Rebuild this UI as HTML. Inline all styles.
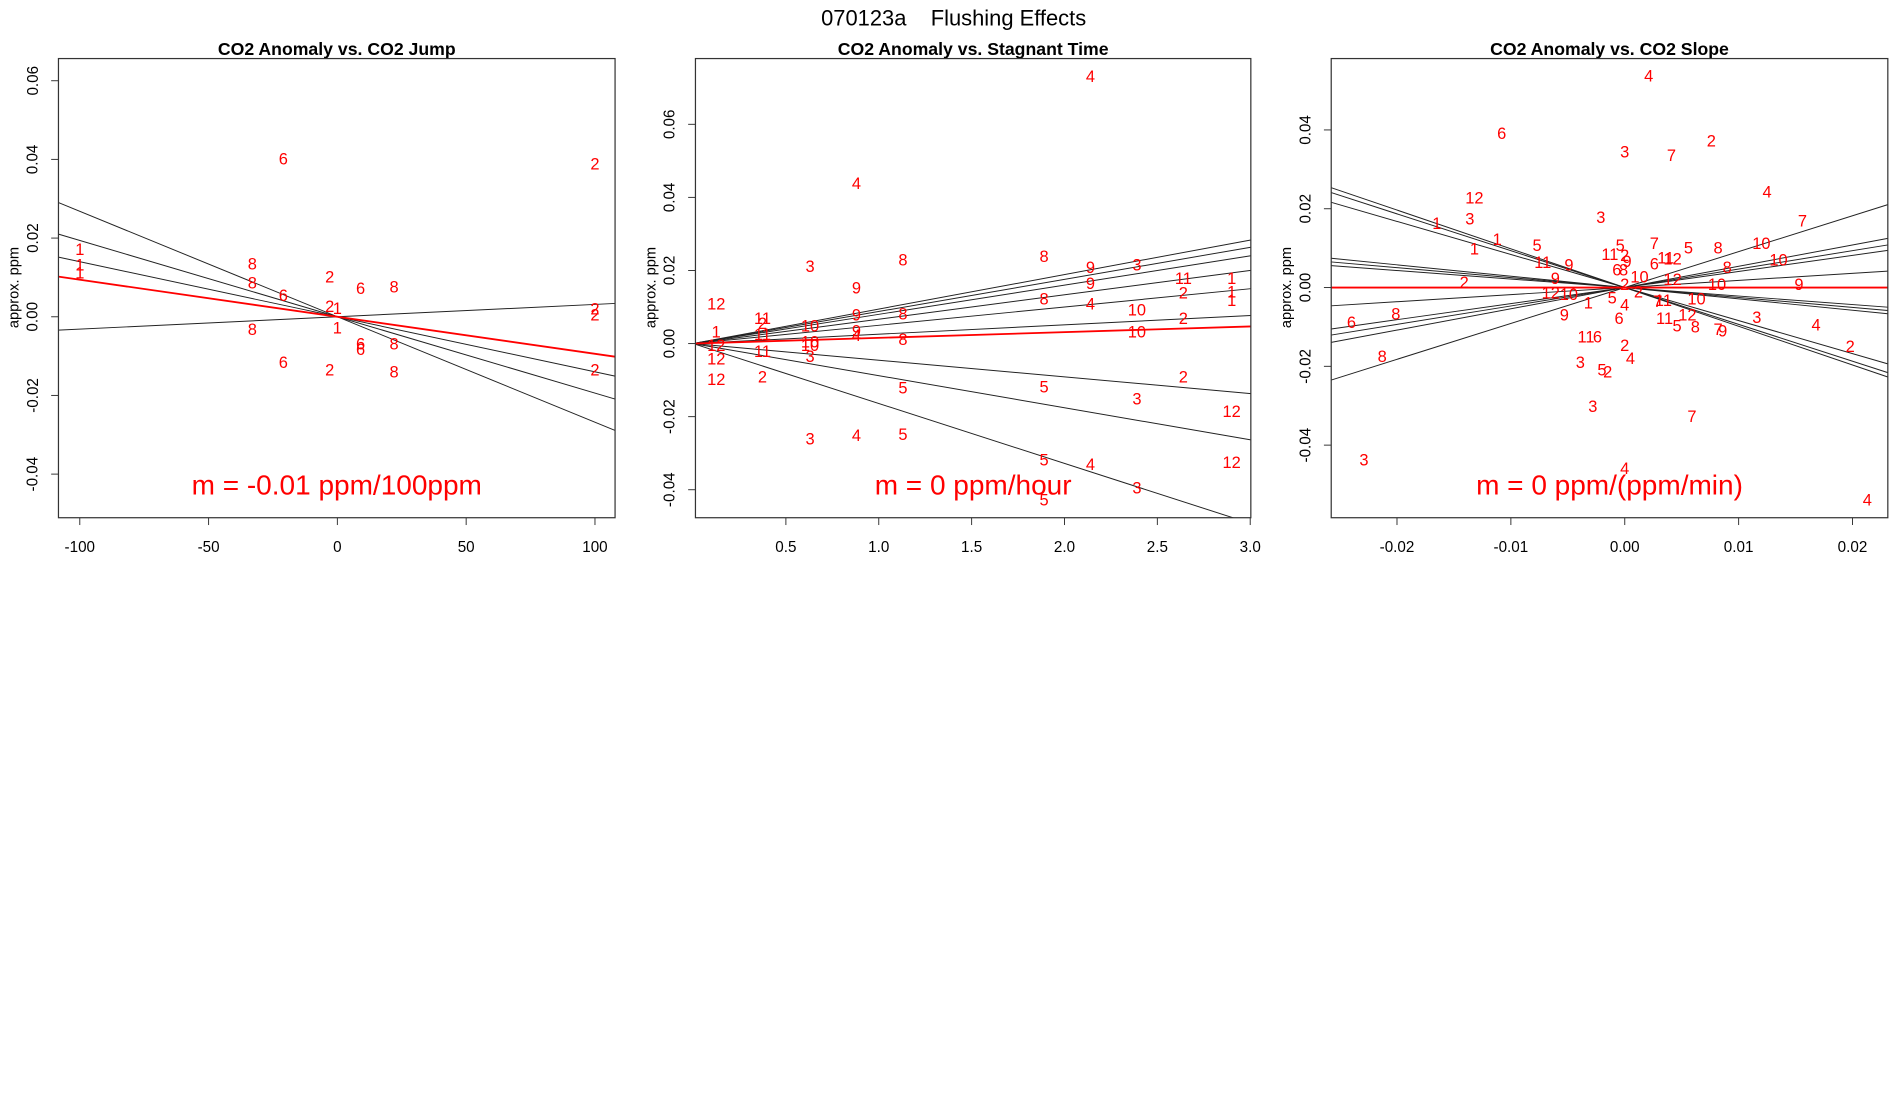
<!DOCTYPE html>
<html><head><meta charset="utf-8"><style>
body{margin:0;background:#fff;}
svg{display:block;font-family:"Liberation Sans",Arial,sans-serif;}
</style></head><body>
<svg id="chart" width="1900" height="1100" viewBox="0 0 1560 903" xmlns="http://www.w3.org/2000/svg">
<text x="783" y="21" font-size="18" text-anchor="middle" style="white-space:pre" xml:space="preserve">070123a    Flushing Effects</text>
</svg>
<script>
// ---- Panel 1: CO2 Jump ----
const p1Labels = ["1","1","1","6","2","8","8","6","2","2","1","1","6","8","8","6","6","8","6","2","8","2","2","2"];
const p1X = [-100,-100,-100,-21,100,-33,-33,-21,-3,-3,0,0,9,22,-33,9,9,22,-21,-3,22,100,100,100];
const p1Y = [0.017,0.013,0.011,0.040,0.0387,0.0133,0.0084,0.0053,0.010,0.0025,0.002,-0.003,0.007,0.0074,-0.0034,-0.007,-0.0084,-0.0071,-0.0118,-0.0136,-0.0142,0.0019,0.0003,-0.0136];
const p1Slopes = [-0.000268,-0.000194,-0.00014,0.0000314];
const p1Red = -0.0000942;
const p1XTicks = [-100,-50,0,50,100];
const p1XTickLabels = ["-100","-50","0","50","100"];
const p1YTicks = [0.06,0.04,0.02,0,-0.02,-0.04];
const p1YTickLabels = ["0.06","0.04","0.02","0.00","-0.02","-0.04"];

// ---- Panel 2: Stagnant Time ----
const p2Labels = ["4","4","12","3","9","8","8","9","3","9","11","1","2","1","1","8","4","10","8","2","10","1","11","2","10","9","11","9","4","10","10","12","11","3","8","12","2","12","5","5","2","3","12","3","4","5","5","4","12","3","5"];
const p2X = [2.14,0.88,0.125,0.63,0.88,1.13,1.89,2.14,2.39,2.14,2.64,2.90,2.64,2.90,2.90,1.89,2.14,2.39,1.13,2.64,2.39,0.125,0.374,0.374,0.63,0.88,0.374,0.88,0.88,0.63,0.63,0.125,0.374,0.63,1.13,0.125,0.374,0.125,1.13,1.89,2.64,2.39,2.90,0.63,0.88,1.13,1.89,2.14,2.90,2.39,1.89];
const p2Y = [0.073,0.0437,0.0107,0.021,0.015,0.0227,0.0237,0.0207,0.0213,0.0163,0.0177,0.0177,0.0137,0.014,0.0117,0.012,0.0107,0.009,0.008,0.0067,0.003,0.003,0.0067,0.0053,0.0047,0.0077,0.0023,0.0033,0.002,0.0003,-0.0007,-0.0007,-0.0023,-0.0037,0.001,-0.0043,-0.0093,-0.01,-0.0123,-0.012,-0.0093,-0.0153,-0.0187,-0.0263,-0.0253,-0.025,-0.032,-0.0333,-0.0327,-0.0397,-0.043];
const p2Slopes = [0.00944,0.00878,0.008,0.00667,0.005,0.00256,-0.00456,-0.00878,-0.0164];
const p2Red = 0.00156;
const p2XTicks = [0.5,1.0,1.5,2.0,2.5,3.0];
const p2XTickLabels = ["0.5","1.0","1.5","2.0","2.5","3.0"];
const p2YTicks = [0.06,0.04,0.02,0,-0.02,-0.04];
const p2YTickLabels = ["0.06","0.04","0.02","0.00","-0.02","-0.04"];

// ---- Panel 3: CO2 Slope ----
const p3Labels = ["4","6","3","7","2","12","4","3","1","3","7","1","1","5","7","5","5","8","10","11","9","11","2","9","11","12","6","10","8","6","8","9","12","10","2","2","9","10","12","10","2","5","1","4","10","7","11","6","8","9","6","11","12","5","8","7","9","3","4","11","6","2","2","8","3","4","5","2","3","7","3","4","4"];
const p3X = [0.0021,-0.0108,0,0.0041,0.0076,-0.0132,0.0125,-0.0136,-0.0165,-0.0021,0.0156,-0.0112,-0.0132,-0.0077,0.0026,-0.0004,0.0056,0.0082,0.012,-0.0072,-0.0049,-0.0013,0,0.0002,0.0036,0.0042,0.0026,0.0135,0.009,-0.0007,-0.0001,-0.0061,0.0042,0.0013,-0.0141,0,0.0153,0.0081,-0.0065,-0.0049,0.0012,-0.0011,-0.0032,0,0.0063,0.0029,0.0034,-0.024,-0.0201,-0.0053,-0.0005,0.0035,0.0055,0.0046,0.0062,0.0082,0.0086,0.0116,0.0168,-0.0034,-0.0024,0,0.0198,-0.0213,-0.0039,0.0005,-0.002,-0.0015,-0.0028,0.0059,-0.0229,0,0.0213];
const p3Y = [0.0535,0.039,0.0343,0.0334,0.0371,0.0226,0.0241,0.0173,0.0161,0.0176,0.0167,0.0121,0.0096,0.0105,0.0111,0.0105,0.0099,0.0099,0.0111,0.0062,0.0056,0.0083,0.008,0.0065,0.0074,0.0071,0.0059,0.0068,0.0049,0.0043,0.0043,0.0022,0.0019,0.0025,0.0012,0.0006,0.0006,0.0006,-0.0015,-0.0019,-0.0012,-0.0028,-0.004,-0.0046,-0.0031,-0.0037,-0.0034,-0.009,-0.0068,-0.0071,-0.008,-0.008,-0.0071,-0.0099,-0.0102,-0.0108,-0.0111,-0.0077,-0.0096,-0.0127,-0.0127,-0.0148,-0.0151,-0.0176,-0.0192,-0.0182,-0.021,-0.0216,-0.0303,-0.0328,-0.0439,-0.0461,-0.0541];
const p3Slopes = [-0.983,-0.935,-0.839,-0.288,-0.252,-0.216,0.18,0.408,0.468,0.54,0.911];
const p3Red = 0;
const p3XTicks = [-0.02,-0.01,0,0.01,0.02];
const p3XTickLabels = ["-0.02","-0.01","0.00","0.01","0.02"];
const p3YTicks = [0.04,0.02,0,-0.02,-0.04];
const p3YTickLabels = ["0.04","0.02","0.00","-0.02","-0.04"];

const NS = "http://www.w3.org/2000/svg";
const svg = document.getElementById("chart");
function mk(tag, attrs, parent){const e=document.createElementNS(NS,tag);for(const k in attrs)e.setAttribute(k,attrs[k]);(parent||svg).appendChild(e);return e;}

const panels = [
 {id:"jump",title:"CO2 Anomaly vs. CO2 Jump",box:[48,48,505,425],x0:277,xs:2.115,y0:260,ys:3230,
  labels:p1Labels,xs_:p1X,ys_:p1Y,slopes:p1Slopes,red:p1Red,xt:p1XTicks,xtl:p1XTickLabels,yt:p1YTicks,ytl:p1YTickLabels,
  m:"m = -0.01 ppm/100ppm",ylab:12},
 {id:"stagnant",title:"CO2 Anomaly vs. Stagnant Time",box:[571,48,1027,425],x0:569,xs:152.5,y0:282,ys:3000,
  labels:p2Labels,xs_:p2X,ys_:p2Y,slopes:p2Slopes,red:p2Red,xt:p2XTicks,xtl:p2XTickLabels,yt:p2YTicks,ytl:p2YTickLabels,
  m:"m = 0 ppm/hour",ylab:535},
 {id:"slope",title:"CO2 Anomaly vs. CO2 Slope",box:[1093,48,1550,425],x0:1334,xs:9350,y0:236,ys:3235,
  labels:p3Labels,xs_:p3X,ys_:p3Y,slopes:p3Slopes,red:p3Red,xt:p3XTicks,xtl:p3XTickLabels,yt:p3YTicks,ytl:p3YTickLabels,
  m:"m = 0 ppm/(ppm/min)",ylab:1057}
];

panels.forEach((p,pi)=>{
 const [L,T,R,B]=p.box;
 const sx=v=>p.x0+p.xs*v, sy=v=>p.y0-p.ys*v;
 const inv=px=>(px-p.x0)/p.xs;
 const g=mk("g",{});
 
 
 const cp=mk("clipPath",{id:"clip"+pi},g);
 mk("rect",{x:L,y:T,width:R-L,height:B-T},cp);
 const t=mk("text",{x:(L+R)/2,y:45,"font-size":14.5,"font-weight":"bold","text-anchor":"middle"},g);
 t.textContent=p.title;
 
 
 const yl=mk("text",{x:p.ylab,y:236,"font-size":12,"text-anchor":"middle",transform:`rotate(-90 ${p.ylab} 236)`,"dominant-baseline":"middle"},g);
 yl.textContent="approx. ppm";
 
 
 p.xt.forEach((v,i)=>{
  const x=sx(v);
  const tk=mk("line",{x1:x,y1:B,x2:x,y2:B+6,stroke:"#333","stroke-width":0.8},g);
  
  
  const tl=mk("text",{x:x,y:453,"font-size":12.5,"text-anchor":"middle"},g);
  tl.textContent=p.xtl[i];
  
  
 });
 p.yt.forEach((v,i)=>{
  const y=sy(v);
  const tk=mk("line",{x1:L-6,y1:y,x2:L,y2:y,stroke:"#333","stroke-width":0.8},g);
  
  
  const xx=L-17;
  const tl=mk("text",{x:xx,y:y,"font-size":12.5,"text-anchor":"middle",transform:`rotate(-90 ${xx} ${y})`},g);
  tl.textContent=p.ytl[i];
  
  
 });
 const lg=mk("g",{"clip-path":`url(#clip${pi})`},g);
 const xa=inv(L), xb=inv(R);
 p.slopes.forEach(s=>{
  const ln=mk("line",{x1:sx(xa),y1:sy(s*xa),x2:sx(xb),y2:sy(s*xb),stroke:"#222","stroke-width":0.8},lg);
  
  
 });
 const rl=mk("line",{x1:sx(xa),y1:sy(p.red*xa),x2:sx(xb),y2:sy(p.red*xb),stroke:"#ff0000","stroke-width":1.5},lg);
 
 
 p.labels.forEach((lab,i)=>{
  const pt=mk("text",{x:sx(p.xs_[i]),y:sy(p.ys_[i]),"font-size":13.5,fill:"#ff0000","text-anchor":"middle","dominant-baseline":"central"},lg);
  pt.textContent=lab;
  
  
 });
 const mt=mk("text",{x:(L+R)/2,y:406,"font-size":23,fill:"#ff0000","text-anchor":"middle"},g);
 mt.textContent=p.m;
 
 
 const bx=mk("rect",{x:L,y:T,width:R-L,height:B-T,fill:"none",stroke:"#333","stroke-width":1},g);
 
 
});
</script>
</body></html>
